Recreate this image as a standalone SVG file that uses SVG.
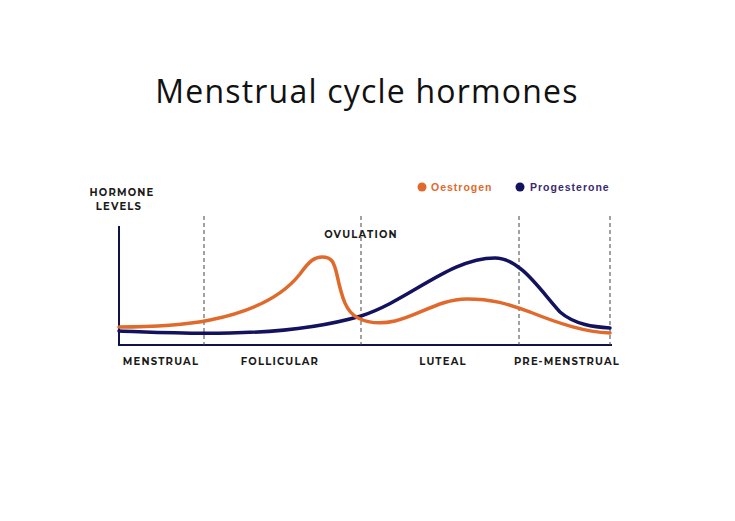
<svg xmlns="http://www.w3.org/2000/svg" width="735" height="521" viewBox="0 0 735 521">
<style>
.lbl{font-family:"Montserrat","Liberation Sans",Arial,sans-serif;font-size:10px;font-weight:bold;letter-spacing:1.2px;fill:#1a1a1a}
.dash{stroke:#444;stroke-width:1;stroke-dasharray:4,3}
.leg{font-family:"Liberation Sans",Arial,sans-serif;font-size:10.5px;font-weight:bold;letter-spacing:1px}
</style>
<rect width="735" height="521" fill="#fff"/>
<text x="367" y="103" text-anchor="middle" font-family="'Open Sans','Liberation Sans',sans-serif" font-size="32" letter-spacing="1.2" fill="#111">Menstrual cycle hormones</text>
<g id="axes">
<line x1="119" y1="226" x2="119" y2="346" stroke="#12124a" stroke-width="2"/>
<line x1="118" y1="345" x2="612" y2="345" stroke="#12124a" stroke-width="2"/>
</g>
<g id="dividers">
<line class="dash" x1="204" y1="216" x2="204" y2="345"/>
<line class="dash" x1="361" y1="216" x2="361" y2="345"/>
<line class="dash" x1="519" y1="216" x2="519" y2="345"/>
<line class="dash" x1="610" y1="216" x2="610" y2="345"/>
</g>
<g id="labels">
<text class="lbl" x="122" y="196" text-anchor="middle">HORMONE</text>
<text class="lbl" x="119" y="210" text-anchor="middle">LEVELS</text>
<text class="lbl" x="361" y="238" text-anchor="middle">OVULATION</text>
<text class="lbl" x="161" y="365" text-anchor="middle">MENSTRUAL</text>
<text class="lbl" x="280" y="365" text-anchor="middle">FOLLICULAR</text>
<text class="lbl" x="443" y="365" text-anchor="middle">LUTEAL</text>
<text class="lbl" x="567" y="365" text-anchor="middle">PRE-MENSTRUAL</text>
</g>
<g id="legend">
<circle cx="422" cy="187" r="4.5" fill="#E06A2C"/>
<text class="leg" x="431" y="191" fill="#E06A2C">Oestrogen</text>
<circle cx="520" cy="187" r="4.5" fill="#12125E"/>
<text class="leg" x="530" y="191" fill="#3a2a6e">Progesterone</text>
</g>
<g id="curves" fill="none" stroke-width="3.5" stroke-linecap="round">
<path d="M119,331 C150,332 180,334 230,333 C290,332 330,325 361,316 C410,300 450,258 495,258 C520,258 540,290 560,312 C575,325 595,327 610,328" stroke="#12125E"/>
<path d="M119,327 C150,327 180,326 210,320 C260,310 285,293 300,274 C310,260 315,257 322,257 C332,257 334,262 337,275 C342,298 346,312 358,318 C368,323 382,324 395,321 C420,315 440,299 467,299 C495,299 510,305 530,312 C560,324 585,332 610,333" stroke="#E06A2C"/>
</g>
</svg>
